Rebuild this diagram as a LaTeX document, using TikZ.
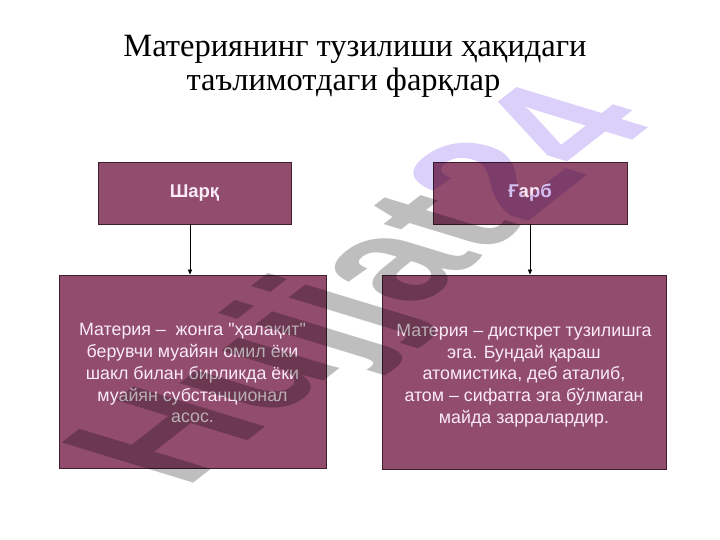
\documentclass[tikz,border=0pt]{standalone}
\usepackage{fontspec}
\setmainfont{Liberation Serif}
\setsansfont{Liberation Sans}
\newfontfamily\boxfont{Liberation Sans}[Ligatures=TeXOff]
\usetikzlibrary{arrows.meta}
\definecolor{boxfill}{RGB}{146,76,110}
\definecolor{boxline}{RGB}{60,30,45}
\definecolor{boxtext}{RGB}{250,235,245}
\definecolor{wmgray}{RGB}{190,190,190}
\definecolor{wmlav}{RGB}{218,208,250}
\begin{document}
\begin{tikzpicture}[x=1pt,y=-1pt,
  box/.style={draw=boxline, line width=0.8pt, fill=boxfill, text=boxtext,
    font=\boxfont\fontsize{17.8}{21.7}\selectfont, align=center, inner sep=0pt},
  head/.style={box, font=\boxfont\bfseries\fontsize{18.5}{20}\selectfont},
  ttl/.style={font=\fontsize{32.5}{36}\selectfont, anchor=base, inner sep=0pt},
  conn/.style={-{Triangle[length=5pt,width=4pt]}, line width=0.7pt, black},
  wm/.style={inner sep=0pt, anchor=base west, font=\sffamily\bfseries\fontsize{100}{100}\selectfont}]
\useasboundingbox (0,0) rectangle (720,540);
\fill[white] (0,0) rectangle (720,540);
\node[ttl] (title1) at (355,57) {Материянинг тузилиши ҳақидаги};
\node[ttl] (title2) at (343.5,91) {таълимотдаги фарқлар};
\node[head, minimum width=193, minimum height=62] (east) at (194.5,193) {Шарқ};
\node[head, minimum width=194, minimum height=62] (west) at (530,193) {Ғарб};
\node[box, minimum width=267, minimum height=193] (lbox) at (192.5,371.5)
  {\raisebox{-3.5pt}[\height][\depth]{\begin{tabular}{@{}c@{}}Материя –\ \ жонга "ҳалақит"\\ берувчи муайян омил ёки\\ шакл билан бирликда ёки\\ муайян субстанционал\\ асос.\end{tabular}}};
\node[box, minimum width=284, minimum height=194] (rbox) at (524,372)
  {\raisebox{-3.5pt}[\height][\depth]{\begin{tabular}{@{}c@{}}Материя – дисткрет тузилишга\\ эга. Бундай қараш\\ атомистика, деб аталиб,\\ атом – сифатга эга бўлмаган\\ майда зарралардир.\end{tabular}}};
\draw[conn] ([xshift=-4.5pt]east.south) -- ([xshift=-4.5pt]east.south |- lbox.north);
\draw[conn] (west.south) -- (west.south |- rbox.north);
\begin{scope}[blend mode=multiply]
\node[wm, cm={1.221,0.955,-1.912,0.584,(0,0)}] (mark) at (185,490)
  {\textcolor{wmgray}{Hujjat}\textcolor{wmlav}{24}};
\end{scope}
\end{tikzpicture}
\end{document}
